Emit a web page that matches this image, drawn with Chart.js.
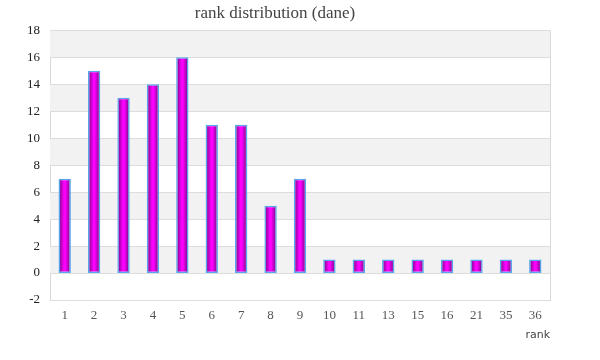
<!DOCTYPE html>
<html>
<head>
<meta charset="utf-8">
<script src="https://cdn.jsdelivr.net/npm/chart.js@4"></script>
<style>
  html, body { margin: 0; padding: 0; background: #fff; }
  #wrap { width: 600px; height: 360px; }
</style>
</head>
<body>
<div id="wrap"><canvas id="rankChart"></canvas></div>
<script>
const ranks = ['1', '2', '3', '4', '5', '6', '7', '8', '9', '10', '11', '13', '15', '16', '21', '35', '36'];
const counts = [7, 15, 13, 14, 16, 11, 11, 5, 7, 1, 1, 1, 1, 1, 1, 1, 1];
const yMin = -2;
const yMax = 18;
const yStep = 2;

// alternating grey bands between the y grid lines, plus right border
const bandPlugin = {
  id: 'bands',
  beforeDatasetsDraw: function (chart) {
    const ctx = chart.ctx;
    const area = chart.chartArea;
    const y = chart.scales.y;
    ctx.save();
    ctx.fillStyle = '#f2f2f2';
    for (let v = 0; v < yMax; v += 4) {
      const top = y.getPixelForValue(v + yStep);
      const bottom = y.getPixelForValue(v);
      ctx.fillRect(area.left, top, area.right - area.left, bottom - top);
    }
    ctx.strokeStyle = '#dddddd';
    ctx.lineWidth = 1;
    for (let v = yMin; v <= yMax; v += yStep) {
      const py = Math.round(y.getPixelForValue(v)) + 0.5;
      ctx.beginPath();
      ctx.moveTo(area.left, py);
      ctx.lineTo(area.right, py);
      ctx.stroke();
    }
    ctx.strokeStyle = '#d9d9d9';
    ctx.beginPath();
    ctx.moveTo(Math.round(area.right) + 0.5, area.top);
    ctx.lineTo(Math.round(area.right) + 0.5, area.bottom);
    ctx.stroke();
    ctx.restore();
  }
};

function barGradient(context) {
  const chart = context.chart;
  if (!chart.chartArea || !chart.scales.x) return '#cc00cc';
  const meta = chart.getDatasetMeta(context.datasetIndex);
  const bar = meta.data[context.dataIndex];
  const cx = chart.scales.x.getPixelForValue(context.dataIndex);
  const half = bar && bar.width ? bar.width / 2 : 6;
  const g = chart.ctx.createLinearGradient(cx - half, 0, cx + half, 0);
  g.addColorStop(0, '#6e0a7e');
  g.addColorStop(0.45, '#ff00ff');
  g.addColorStop(0.55, '#ff00ff');
  g.addColorStop(1, '#6e0a7e');
  return g;
}

const ctx = document.getElementById('rankChart').getContext('2d');
new Chart(ctx, {
  type: 'bar',
  data: {
    labels: ranks,
    datasets: [{
      label: 'count',
      data: counts,
      backgroundColor: barGradient,
      borderColor: '#5aa6ee',
      borderWidth: 1.5,
      borderSkipped: false,
      barPercentage: 0.42,
      categoryPercentage: 1
    }]
  },
  options: {
    responsive: true,
    maintainAspectRatio: false,
    animation: false,
    layout: { padding: { left: 0, right: 50, top: 0, bottom: 0 } },
    plugins: {
      legend: { display: false },
      tooltip: { enabled: false },
      title: {
        display: true,
        text: 'rank distribution (dane)',
        color: '#444444',
        font: { family: 'Liberation Serif', size: 17, weight: 'normal' },
        padding: { top: 3, bottom: 7 }
      }
    },
    scales: {
      x: {
        grid: { display: false, drawTicks: false },
        border: { display: true, color: '#d9d9d9', width: 1 },
        ticks: {
          color: '#555555',
          padding: 8,
          maxRotation: 0,
          font: { family: 'Liberation Serif', size: 13 }
        },
        title: {
          display: true,
          text: 'rank',
          align: 'end',
          color: '#444444',
          font: { family: 'DejaVu Sans', size: 11 },
          padding: { top: 4, bottom: 18 }
        },
        afterFit: function (scale) { scale.height = 60; }
      },
      y: {
        min: yMin,
        max: yMax,
        grid: { display: false, drawTicks: false },
        border: { display: true, color: '#d9d9d9', width: 1 },
        ticks: {
          stepSize: yStep,
          color: '#222222',
          padding: 10,
          font: { family: 'Liberation Serif', size: 13 }
        },
        afterFit: function (scale) { scale.width = 50; }
      }
    }
  },
  plugins: [bandPlugin]
});
</script>
</body>
</html>
